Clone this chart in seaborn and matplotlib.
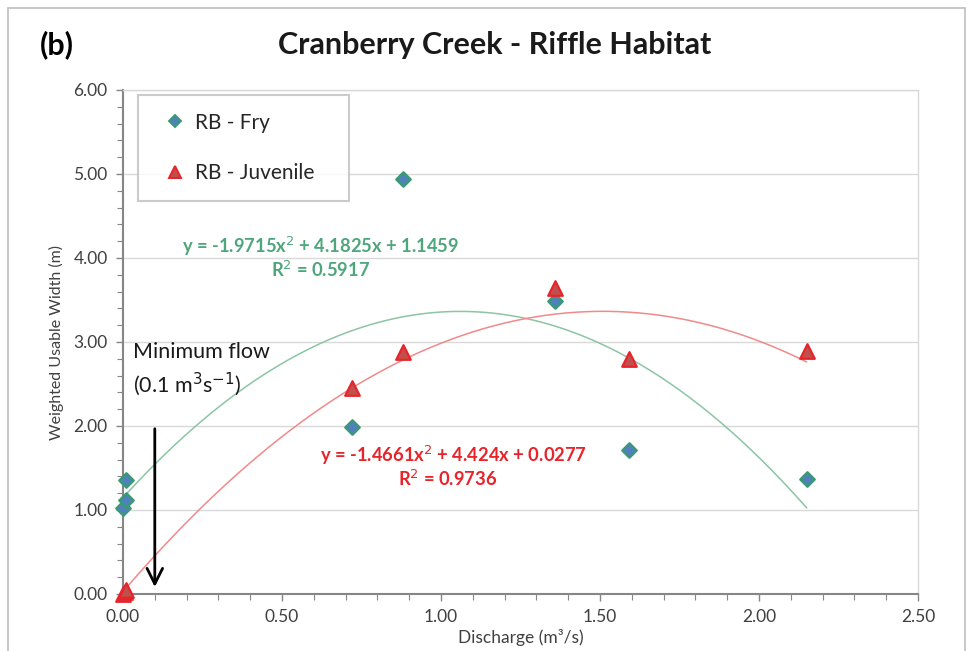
import matplotlib
matplotlib.use("Agg")
import matplotlib.pyplot as plt
import numpy as np
import pandas as pd
import seaborn as sns
from matplotlib.ticker import MultipleLocator, FormatStrFormatter
from matplotlib.lines import Line2D

# ---- data ----
fry_q = [0.00, 0.01, 0.01, 0.72, 0.88, 1.36, 1.59, 2.15]
fry_w = [1.02, 1.12, 1.36, 1.99, 4.94, 3.49, 1.71, 1.37]
juv_q = [0.00, 0.005, 0.01, 0.72, 0.88, 1.36, 1.59, 2.15]
juv_w = [0.00, 0.02, 0.05, 2.45, 2.88, 3.64, 2.80, 2.89]
fry_coef = [-1.9715, 4.1825, 1.1459]
juv_coef = [-1.4661, 4.424, 0.0277]
fry_r2 = 0.5917
juv_r2 = 0.9736
x_ticks = [0.0, 0.5, 1.0, 1.5, 2.0, 2.5]
y_ticks = [0, 1, 2, 3, 4, 5, 6]

sns.set_theme(style="white")
plt.rcParams['font.family'] = ['Lato', 'DejaVu Sans']

fig = plt.figure(figsize=(9.71, 6.51), dpi=100)
ax = fig.add_axes([123/971, 1-594/651, (918-123)/971, (594-90)/651])

fry_df = pd.DataFrame({"Discharge": fry_q, "WUW": fry_w})
juv_df = pd.DataFrame({"Discharge": juv_q, "WUW": juv_w})

# trendlines from displayed coefficients
xf = np.linspace(min(fry_q), max(fry_q), 200)
fry_line = pd.DataFrame({"x": xf, "y": np.polyval(fry_coef, xf)})
xj = np.linspace(min(juv_q), max(juv_q), 200)
juv_line = pd.DataFrame({"x": xj, "y": np.polyval(juv_coef, xj)})

green_line = "#8cc5a4"
red_line = "#f08a8a"
sns.lineplot(data=fry_line, x="x", y="y", ax=ax, color=green_line, lw=1.1, zorder=2)
sns.lineplot(data=juv_line, x="x", y="y", ax=ax, color=red_line, lw=1.1, zorder=2)

sns.scatterplot(data=fry_df, x="Discharge", y="WUW", ax=ax, marker="D", s=55,
                color="#4f81bd", edgecolor="#3a9a72", linewidth=1.6, zorder=4, clip_on=False)
sns.scatterplot(data=juv_df, x="Discharge", y="WUW", ax=ax, marker="^", s=110,
                color="#c0504d", edgecolor="#e8232a", linewidth=1.6, zorder=4, clip_on=False)

ax.set_xlim(0, 2.5)
ax.set_ylim(0, 6)
ax.set_xticks(x_ticks)
ax.set_yticks(y_ticks)
ax.xaxis.set_major_formatter(FormatStrFormatter("%.2f"))
ax.yaxis.set_major_formatter(FormatStrFormatter("%.2f"))
ax.xaxis.set_minor_locator(MultipleLocator(0.1))
ax.yaxis.set_minor_locator(MultipleLocator(0.2))
ax.tick_params(axis="both", which="both", direction="out", colors="#868686",
               labelcolor="#404040", labelsize=12.5)
ax.tick_params(axis="both", which="major", length=5, width=1, bottom=True, left=True, pad=6)
ax.tick_params(axis="both", which="minor", length=4, width=0.8, bottom=True, left=True)
ax.grid(axis="y", color="#d9d9d9", lw=1)
ax.set_axisbelow(True)
for s in ["top", "right"]:
    ax.spines[s].set_color("#d9d9d9")
    ax.spines[s].set_linewidth(1)
for s in ["left", "bottom"]:
    ax.spines[s].set_color("#868686")
    ax.spines[s].set_linewidth(1.5)

ax.set_xlabel("Discharge (m³/s)", fontsize=12.5, color="#404040", labelpad=3)
ax.set_ylabel("Weighted Usable Width (m)", fontsize=11.5, color="#404040", labelpad=7)

# equations
eq_kw = dict(fontsize=13.2, fontweight="bold", ha="center", va="center")
ax.text(0.62, 4.14, "y = -1.9715x$^{2}$ + 4.1825x + 1.1459", color="#4ea67c", **eq_kw)
ax.text(0.62, 3.86, f"R$^{{2}}$ = {fry_r2:.4f}", color="#4ea67c", **eq_kw)
ax.text(1.04, 1.65, "y = -1.4661x$^{2}$ + 4.424x + 0.0277", color="#e8232a", **eq_kw)
ax.text(1.02, 1.37, f"R$^{{2}}$ = {juv_r2:.4f}", color="#e8232a", **eq_kw)

# minimum flow annotation
ax.text(0.03, 2.88, "Minimum flow", fontsize=15.5, color="#1a1a1a", ha="left", va="center")
ax.text(0.03, 2.50, "(0.1 m$^{3}$s$^{-1}$)", fontsize=15.5, color="#1a1a1a", ha="left", va="center")
ax.annotate("", xy=(0.1, 0.05), xytext=(0.1, 2.0),
            arrowprops=dict(arrowstyle="->", lw=2, color="black", mutation_scale=28))

# legend
handles = [
    Line2D([0], [0], marker="D", ls="none", markersize=6, markerfacecolor="#4f81bd",
           markeredgecolor="#3a9a72", markeredgewidth=1.4),
    Line2D([0], [0], marker="^", ls="none", markersize=9, markerfacecolor="#c0504d",
           markeredgecolor="#e8232a", markeredgewidth=1.4),
]
leg = ax.legend(handles, ["RB - Fry", "RB - Juvenile   "], loc="upper left",
                bbox_to_anchor=(0.019, 0.99), fontsize=15, frameon=True, fancybox=False,
                edgecolor="#bfbfbf", labelspacing=1.45, borderpad=0.85, handletextpad=0.1,
                handlelength=1.8, borderaxespad=0)
leg.get_frame().set_linewidth(1.5)
for t in leg.get_texts():
    t.set_color("#262626")

# titles
fig.text(495/971, 1-45/651, "Cranberry Creek - Riffle Habitat", fontsize=22,
         fontweight="bold", ha="center", va="center", color="#1a1a1a")
fig.text(40/971, 1-45/651, "(b)", fontsize=22, fontweight="bold", ha="left",
         va="center", color="#000000")

# outer frame
for xs, ys in [([8/971, 8/971], [0, 1-8/651]), ([8/971, 965/971], [1-8/651, 1-8/651]),
               ([965/971, 965/971], [0, 1-8/651])]:
    fig.add_artist(Line2D(xs, ys, color="#bfbfbf", lw=1.2))

fig.savefig("out.png", dpi=100)
